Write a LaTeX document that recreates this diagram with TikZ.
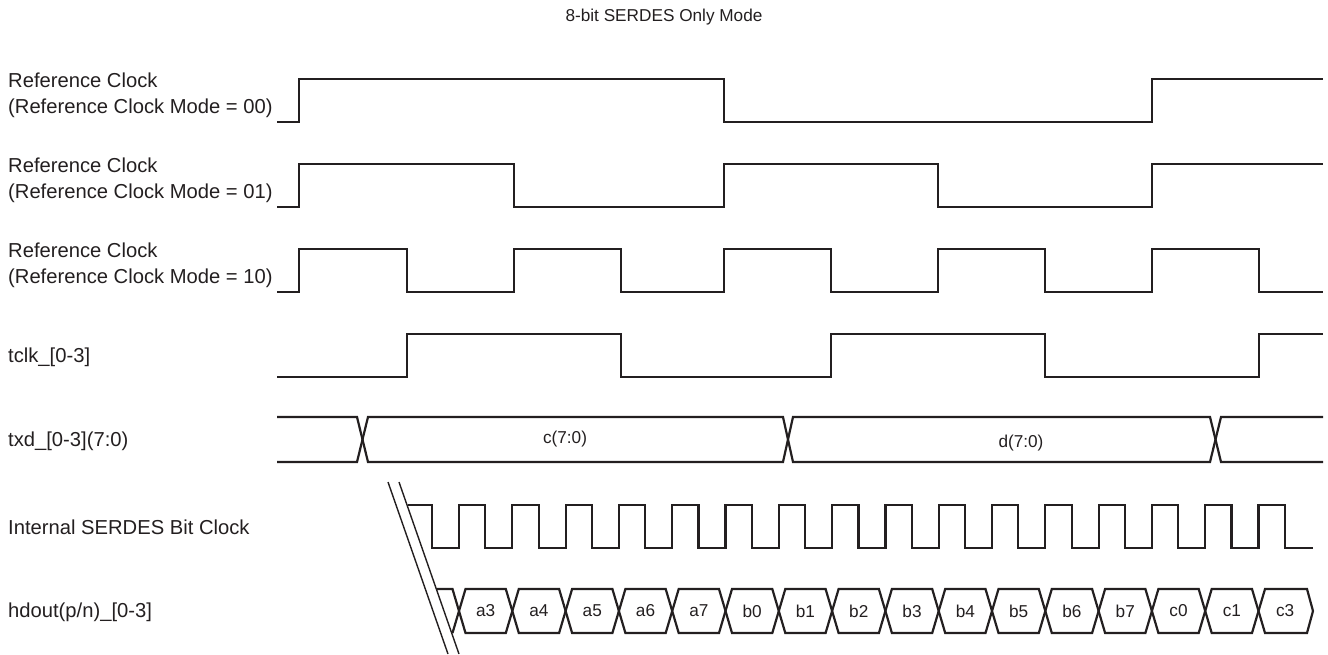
\documentclass[tikz,border=0pt]{standalone}
\usepackage{fontspec}
\setmainfont{Liberation Sans}
\usetikzlibrary{positioning}
\definecolor{ink}{HTML}{231F20}
\tikzset{sig/.style={draw=ink, line width=2.2pt},
  lbl/.style={anchor=west, align=left, text=ink, inner sep=0pt, font=\fontsize{20.2}{26}\selectfont},
  val/.style={text=ink, inner sep=0pt, font=\fontsize{17.2}{20}\selectfont},
  brk/.style={draw=ink, line width=1.4pt}}

\begin{document}
\begin{tikzpicture}[x=1pt, y=-1pt]
  \useasboundingbox (0,0) rectangle (1328,654);
  \node[val] (title) at (664,17) {8-bit SERDES Only Mode};
  % signal names
  \node[lbl] (nref0) at (8,95) {Reference Clock\\(Reference Clock Mode = 00)};
  \node[lbl] (nref1) at (8,180) {Reference Clock\\(Reference Clock Mode = 01)};
  \node[lbl] (nref2) at (8,265) {Reference Clock\\(Reference Clock Mode = 10)};
  \node[lbl] (ntclk) at (8,357) {tclk\_[0-3]};
  \node[lbl] (ntxd) at (8,441) {txd\_[0-3](7:0)};
  \node[lbl] (nbit) at (8,527) {Internal SERDES Bit Clock};
  \node[lbl] (nhd) at (8,612) {hdout(p/n)\_[0-3]};
  % reference clocks
  \draw[sig] (277,122) -| (299,79) -| (724,122) -| (1152,79) -- (1323,79);
  \draw[sig] (277,207) -| (299,164) -| (514,207) -| (724,164) -| (938,207) -| (1152,164) -- (1323,164);
  \draw[sig] (277,292) -| (299,249) -| (407,292) -| (514,249) -| (621,292) -| (724,249) -| (831,292)
    -| (938,249) -| (1045,292) -| (1152,249) -| (1259,292) -- (1323,292);
  % tclk
  \draw[sig] (277,377) -| (407,334) -| (621,377) -| (831,334) -| (1045,377) -| (1259,334) -- (1323,334);
  % txd bus
  \draw[sig] (277,417) -- (357,417) -- (368,462) -- (783,462) -- (793,417) -- (1210,417) -- (1221,462) -- (1323,462);
  \draw[sig] (277,462) -- (357,462) -- (368,417) -- (783,417) -- (793,462) -- (1210,462) -- (1221,417) -- (1323,417);
  \node[val] (wc) at (565,439) {c(7:0)};
  \node[val] (wd) at (1021,443) {d(7:0)};
  % bit clock
  \draw[sig] (408,505) -- (432,505) foreach \k in {1,...,16} { -- ++(0,43) -- ++(27,0) -- ++(0,-43) -- ++(26.3,0) }
    -- ++(0,43) -- (1313,548);
  % hdout serial data
  \draw[sig] (437,589) foreach \k [evaluate=\k as \ya using {mod(\k,2)==0 ? 589 : 633},
      evaluate=\k as \yb using {mod(\k,2)==0 ? 633 : 589}] in {0,...,15}
      { -- ({452.5+53.3*\k},\ya) -- ({465.5+53.3*\k},\yb) } -- (1307,589) -- (1313,611);
  \draw[sig] (452.5,633) foreach \k [evaluate=\k as \ya using {mod(\k,2)==0 ? 589 : 633}] in {0,...,15}
      { -- ({465.5+53.3*\k},\ya) -- ({505.8+53.3*\k},\ya) } -- (1307,633) -- (1313,611);
  \foreach \v [count=\k from 0] in {a3,a4,a5,a6,a7,b0,b1,b2,b3,b4,b5,b6,b7,c0,c1,c3}
    \node[val] (bit\k) at ({485.65+53.3*\k},611) {\v};
  % break marks
  \draw[brk] (388,482) -- (448,654);
  \draw[brk] (399,482) -- (459,654);
\end{tikzpicture}
\end{document}
